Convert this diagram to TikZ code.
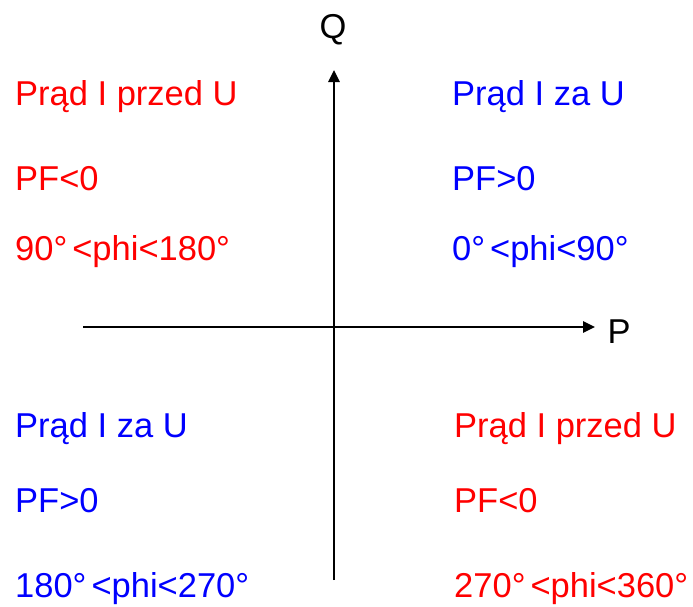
\documentclass[tikz,border=0pt]{standalone}
\usepackage{fontspec}
\setmainfont{Liberation Sans}
\usetikzlibrary{arrows.meta}
\definecolor{myred}{RGB}{255,0,0}
\definecolor{myblue}{RGB}{0,0,255}
\newcommand{\dg}{°\kern5pt}
\begin{document}
\begin{tikzpicture}[x=1pt,y=-1pt,
  lbl/.style={anchor=base west,inner sep=0pt,font=\fontsize{34.5}{40}\selectfont},
  axlbl/.style={anchor=base,inner sep=0pt,font=\fontsize{34.5}{40}\selectfont},
  axis/.style={line width=2.7pt,-{Triangle[length=12pt,width=11pt]}}]
\useasboundingbox (0,0) rectangle (693,606);
\coordinate (ybot) at (334,580);
\coordinate (ytop) at (334,70);
\coordinate (xl) at (83,327);
\coordinate (xr) at (595,327);
\draw[axis] (ybot) -- (ytop);
\draw[axis] (xl) -- (xr);
\node[axlbl] (Q) at (333,38) {Q};
\node[axlbl] (P) at (619,343) {P};
% top left
\node[lbl,text=myred] (a1) at (15,105) {Prąd I przed U};
\node[lbl,text=myred] (a2) at (15,190) {PF<0};
\node[lbl,text=myred] (a3) at (15,260) {90\dg<phi<180°};
% top right
\node[lbl,text=myblue] (b1) at (452,105) {Prąd I za U};
\node[lbl,text=myblue] (b2) at (452,190) {PF>0};
\node[lbl,text=myblue] (b3) at (452,260) {0\dg<phi<90°};
% bottom left
\node[lbl,text=myblue] (c1) at (15,437) {Prąd I za U};
\node[lbl,text=myblue] (c2) at (15,512) {PF>0};
\node[lbl,text=myblue] (c3) at (15,597) {180\dg<phi<270°};
% bottom right
\node[lbl,text=myred] (d1) at (454,437) {Prąd I przed U};
\node[lbl,text=myred] (d2) at (454,512) {PF<0};
\node[lbl,text=myred] (d3) at (454,597) {270\dg<phi<360°};
\end{tikzpicture}
\end{document}
